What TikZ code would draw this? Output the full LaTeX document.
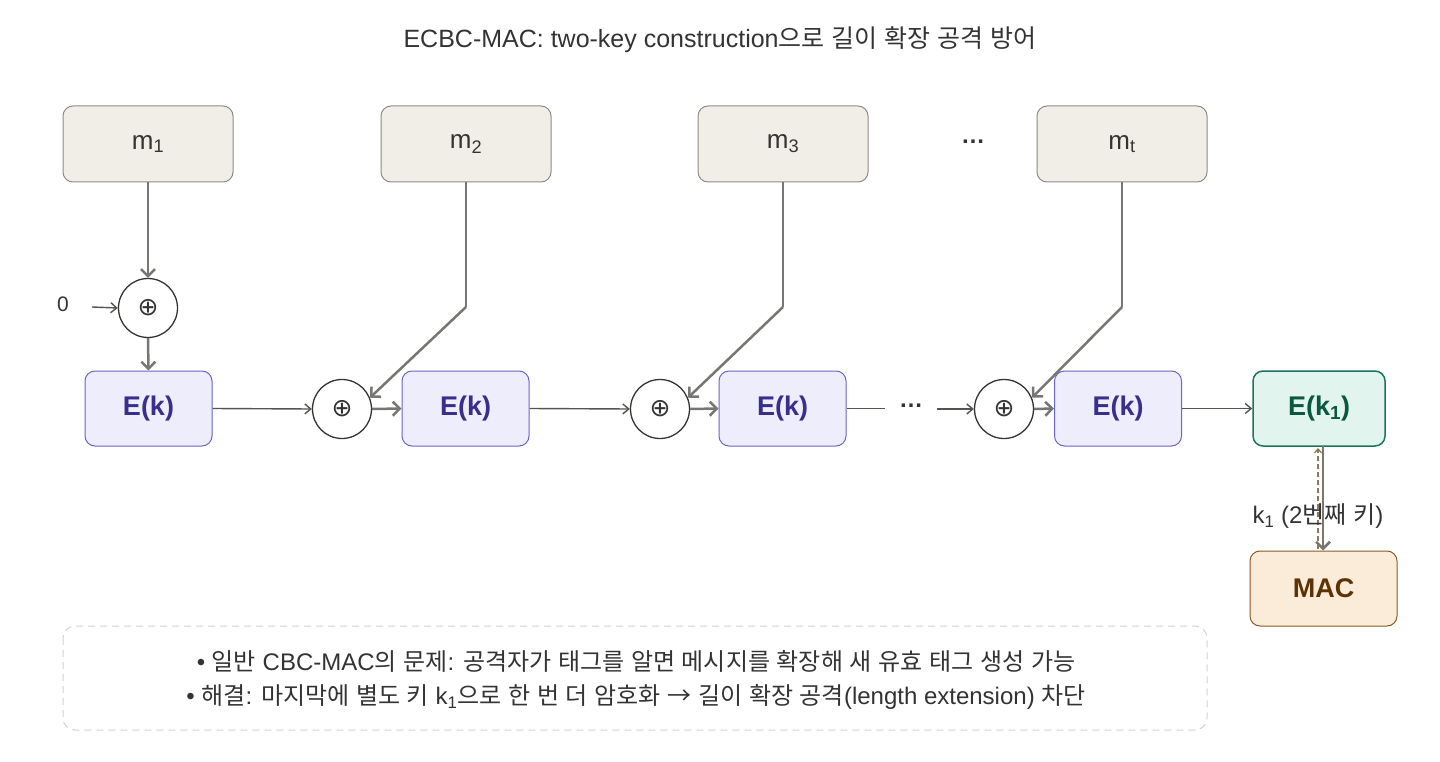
\documentclass[tikz,border=0pt]{standalone}
\usepackage{fontspec}
\setmainfont{Liberation Sans}
\newfontfamily\krfont{Noto Sans CJK KR}
\newfontfamily\symfont{DejaVu Sans}
\XeTeXinterchartokenstate=1
\newXeTeXintercharclass\hangulclass
\newcount\hgc
\hgc="AC00
\loop
  \XeTeXcharclass\hgc=\hangulclass
  \advance\hgc by 1
\ifnum\hgc<"D7A4 \repeat
\XeTeXinterchartoks 0 \hangulclass = {\begingroup\krfont}
\XeTeXinterchartoks 4095 \hangulclass = {\begingroup\krfont}
\XeTeXinterchartoks \hangulclass 0 = {\endgroup}
\XeTeXinterchartoks \hangulclass 4095 = {\endgroup}
\usetikzlibrary{arrows.meta}
\definecolor{mfill}{HTML}{F0EEE7}
\definecolor{mline}{HTML}{8C8C88}
\definecolor{efill}{HTML}{EDEDFC}
\definecolor{eline}{HTML}{6B63CF}
\definecolor{etext}{HTML}{3A2E8C}
\definecolor{gfill}{HTML}{E1F4EE}
\definecolor{gline}{HTML}{1B7558}
\definecolor{gtext}{HTML}{0B5740}
\definecolor{ofill}{HTML}{FBECD9}
\definecolor{oline}{HTML}{8B5A24}
\definecolor{otext}{HTML}{5C3306}
\definecolor{agray}{HTML}{767672}
\definecolor{lgray}{HTML}{55554F}
\definecolor{txt}{HTML}{333333}
\definecolor{dashc}{HTML}{8A7A50}
\definecolor{notec}{HTML}{D2D2D2}
\begin{document}
\begin{tikzpicture}[x=1pt,y=-1pt,
  msg/.style={draw=mline, line width=1pt, fill=mfill, rounded corners=10pt, minimum width=170pt, minimum height=76pt, inner sep=0pt, font=\fontsize{26}{30}\selectfont, text=txt},
  enc/.style={draw=eline, line width=1pt, fill=efill, rounded corners=10pt, minimum width=127pt, minimum height=75pt, inner sep=0pt, font=\fontsize{27}{30}\selectfont\bfseries, text=etext},
  fin/.style={enc, draw=gline, line width=1.5pt, fill=gfill, text=gtext, minimum width=132pt},
  macbox/.style={enc, draw=oline, fill=ofill, text=otext, minimum width=147pt},
  xor/.style={circle, draw=txt, line width=1.3pt, fill=white, minimum size=59pt, inner sep=0pt, font=\symfont\fontsize{25}{28}\selectfont, text=txt},
  flow/.style={draw=agray, line width=2.5pt, -{Straight Barb[length=7pt,width=14pt,line width=2.5pt]}},
  link/.style={draw=lgray, line width=1.4pt, -{Straight Barb[length=6pt,width=10pt,line width=1.4pt]}},
  plain/.style={draw=lgray, line width=1.4pt},
  lbl/.style={font=\fontsize{24}{28}\selectfont, text=txt, inner sep=0pt}
]
\useasboundingbox (0,0) rectangle (1440,762);

% title
\node[lbl, font=\fontsize{25}{28}\selectfont] (title) at (720,40) {ECBC-MAC: two-key construction으로 길이 확장 공격 방어};

% message blocks
\node[msg] (m1) at (148,144) {m\textsubscript{1}};
\node[msg] (m2) at (466,144) {m\textsubscript{2}};
\node[msg] (m3) at (783,144) {m\textsubscript{3}};
\node[msg] (mt) at (1122,144) {m\textsubscript{t}};
\node[lbl, font=\fontsize{24}{26}\selectfont\bfseries] (topdots) at (973,142) {…};

% xor nodes
\node[xor] (x1) at (148,308) {⊕};
\node[xor] (x2) at (342,409) {⊕};
\node[xor] (x3) at (660,409) {⊕};
\node[xor] (x4) at (1004,409) {⊕};

% encryption blocks
\node[enc] (e1) at (148.5,408.5) {E(k)};
\node[enc] (e2) at (465.5,408.5) {E(k)};
\node[enc] (e3) at (782.5,408.5) {E(k)};
\node[enc] (e4) at (1118,408.5) {E(k)};
\node[fin] (ef) at (1319,408.5) {E(k\textsubscript{1})};
\node[macbox] (mac) at (1323.5,588.5) {MAC};

% zero input
\node[lbl, font=\fontsize{21}{24}\selectfont] (zero) at (63,304) {0};
\draw[link] (92,307) -- (x1.west);

% chain
\draw[flow] (m1.south) -- (x1.north);
\draw[flow] (x1.south) -- (e1.north);
\draw[link] (e1.east) -- (x2.west);
\draw[flow] (x2.east) -- (e2.west);
\draw[link] (e2.east) -- (x3.west);
\draw[flow] (x3.east) -- (e3.west);
\node[lbl, font=\fontsize{24}{26}\selectfont\bfseries, minimum width=52pt] (dots2) at (911,406) {…};
\draw[plain] (e3.east) -- (dots2.west |- e3.east);
\draw[link] (dots2.east |- x4.west) -- (x4.west);
\draw[flow] (x4.east) -- (e4.west);
\draw[link] (e4.east) -- (ef.west);

% message inputs into xors
\coordinate (b2) at (466,307);
\coordinate (b3) at (783,307);
\coordinate (b4) at (1122,307);
\draw[flow, -] (m2.south) -- (b2);
\draw[flow] (b2) -- (x2.22);
\draw[flow, -] (m3.south) -- (b3);
\draw[flow] (b3) -- (x3.22);
\draw[flow, -] (mt.south) -- (b4);
\draw[flow] (b4) -- (x4.22);

% final
\coordinate (kt) at (1318,448);
\coordinate (kb) at (1318,549);
\coordinate (ft) at (1323,446);
\draw[flow] (ft) -- (mac.north -| ft);
\draw[draw=dashc, line width=1.3pt, dashed, dash pattern=on 5pt off 3pt, -{Straight Barb[length=4pt,width=7pt,line width=1.2pt]}] (kb) -- (kt);
\node[lbl] (klbl) at (1318,516) {k\textsubscript{1} (2번째 키)};

% note
\draw[draw=notec, line width=1pt, dashed, dash pattern=on 7pt off 5pt, rounded corners=12pt] (63,626) rectangle (1207,730);
\node[lbl] (n1) at (636,661) {• 일반 CBC-MAC의 문제: 공격자가 태그를 알면 메시지를 확장해 새 유효 태그 생성 가능};
\node[lbl] (n2) at (636,697) {• 해결: 마지막에 별도 키 k\textsubscript{1}으로 한 번 더 암호화 {\krfont\fontsize{24}{28}\selectfont →} 길이 확장 공격(length extension) 차단};
\end{tikzpicture}
\end{document}
